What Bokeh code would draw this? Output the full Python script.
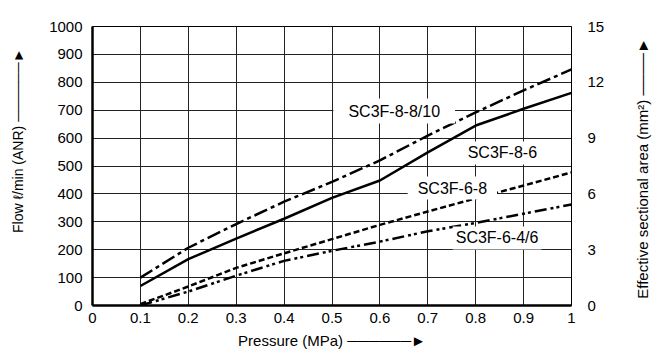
import math
from bokeh.plotting import figure
from bokeh.layouts import row
from bokeh.models import LinearAxis, Range1d, Label, FixedTicker
from bokeh.embed import file_html
from bokeh.resources import INLINE

# ---- data ----
pressure = [0.1, 0.2, 0.3, 0.4, 0.5, 0.6, 0.7, 0.8, 0.9, 1.0]
flow_sc3f_8_8_10 = [100, 207, 292, 372, 443, 520, 609, 692, 771, 846]
flow_sc3f_8_6 = [70, 166, 240, 311, 386, 448, 549, 645, 705, 762]
flow_sc3f_6_8 = [5, 68, 135, 187, 238, 289, 337, 384, 430, 477]
flow_sc3f_6_4_6 = [0, 50, 107, 160, 196, 229, 266, 296, 329, 362]

series_names = ["SC3F-8-8/10", "SC3F-8-6", "SC3F-6-8", "SC3F-6-4/6"]
label_x = [0.503, 0.777, 0.658, 0.752]
label_y = [697, 547, 421, 242]

x_ticks = [0, 0.1, 0.2, 0.3, 0.4, 0.5, 0.6, 0.7, 0.8, 0.9, 1.0]
x_tick_labels = ["0", "0.1", "0.2", "0.3", "0.4", "0.5", "0.6", "0.7", "0.8", "0.9", "1"]
y_ticks = [0, 100, 200, 300, 400, 500, 600, 700, 800, 900, 1000]
area_ticks = [0, 3, 6, 9, 12, 15]

FONT = "Liberation Sans"

p = figure(width=620, height=356, x_range=Range1d(0, 1), y_range=Range1d(0, 1000),
           output_backend="svg", toolbar_location=None,
           min_border_left=92, min_border_right=49, min_border_top=26, min_border_bottom=51)
p.background_fill_color = "white"
p.border_fill_color = "white"
p.outline_line_color = "black"
p.outline_line_width = 1

p.extra_y_ranges = {"area": Range1d(0, 15)}

left = p.yaxis[0]
bottom = p.xaxis[0]
bottom.ticker = FixedTicker(ticks=x_ticks)
bottom.major_label_overrides = {t: l for t, l in zip(x_ticks, x_tick_labels)}
left.ticker = FixedTicker(ticks=y_ticks)

right = LinearAxis(y_range_name="area", ticker=FixedTicker(ticks=area_ticks))
p.add_layout(right, "right")

for ax in [bottom, left, right]:
    ax.major_tick_out = 0
    ax.major_tick_in = 0
    ax.minor_tick_out = 0
    ax.minor_tick_in = 0
    ax.major_label_text_font = FONT
    ax.major_label_text_font_size = "15px"
    ax.major_label_text_color = "black"
    ax.axis_label_text_font = FONT
    ax.axis_label_text_font_size = "15px"
    ax.axis_label_text_font_style = "normal"
    ax.axis_label_text_color = "black"

bottom.axis_line_width = 2.5
left.axis_line_width = 2.5
right.axis_line_width = 1

bottom.major_label_standoff = 7
left.major_label_standoff = 10
right.major_label_standoff = 16

nb = "\u00a0"
bottom.axis_label = "Pressure (MPa) " + "\u2500" * 6 + "\u25ba"
bottom.axis_label_standoff = 6
left.axis_label = nb * 13 + "Flow \u2113/min (ANR) " + "\u2500" * 6 + "\u25ba"
left.axis_label_text_font_size = "14px"
left.axis_label_standoff = 20

# grid
p.xgrid.ticker = FixedTicker(ticks=x_ticks)
p.ygrid.ticker = FixedTicker(ticks=y_ticks)
for g in [p.xgrid[0], p.ygrid[0]]:
    g.grid_line_color = "#222222"
    g.grid_line_width = 1
    g.grid_line_alpha = 1

# curves
p.line(pressure, flow_sc3f_8_8_10, line_color="black", line_width=2.5, line_dash="14 4 4 4")
p.line(pressure, flow_sc3f_8_6, line_color="black", line_width=2.5)
p.line(pressure, flow_sc3f_6_8, line_color="black", line_width=2.5, line_dash="6 3")
p.line(pressure, flow_sc3f_6_4_6, line_color="black", line_width=2.5, line_dash="12 4 3 3 3 4")

# series labels
pads = [(15, 4), (3, 3), (10, 3), (3, 3)]
for name, lx, ly, pad in zip(series_names, label_x, label_y, pads):
    lab = Label(x=lx, y=ly, text=name, text_font=FONT, text_font_size="16px",
                text_color="black", text_align="left", text_baseline="middle",
                background_fill_color="white", background_fill_alpha=1)
    try:
        lab.padding = pad
    except Exception:
        try:
            lab.padding = pad[1]
        except Exception:
            pass
    p.add_layout(lab)

# narrow side panel holding the right-hand axis title (reads bottom to top);
# its frame spans the same pixel rows as the main frame (26..305)
side = figure(width=46, height=356, x_range=Range1d(0, 46), y_range=Range1d(0, 279),
              output_backend="svg", toolbar_location=None,
              x_axis_location=None, y_axis_location=None,
              min_border_left=0, min_border_right=0,
              min_border_top=26, min_border_bottom=51)
side.outline_line_color = None
side.background_fill_color = "white"
side.border_fill_color = "white"
side.xgrid.visible = False
side.ygrid.visible = False
side.add_layout(Label(x=22, y=137,
                      text="Effective sectional area (mm\u00b2) " + "\u2500" * 4 + "\u25ba",
                      angle=math.pi / 2, text_align="center", text_baseline="middle",
                      text_font=FONT, text_font_size="15px", text_color="black"))

layout = row(p, side, spacing=0)
open("out.html", "w").write(file_html(layout, INLINE))
